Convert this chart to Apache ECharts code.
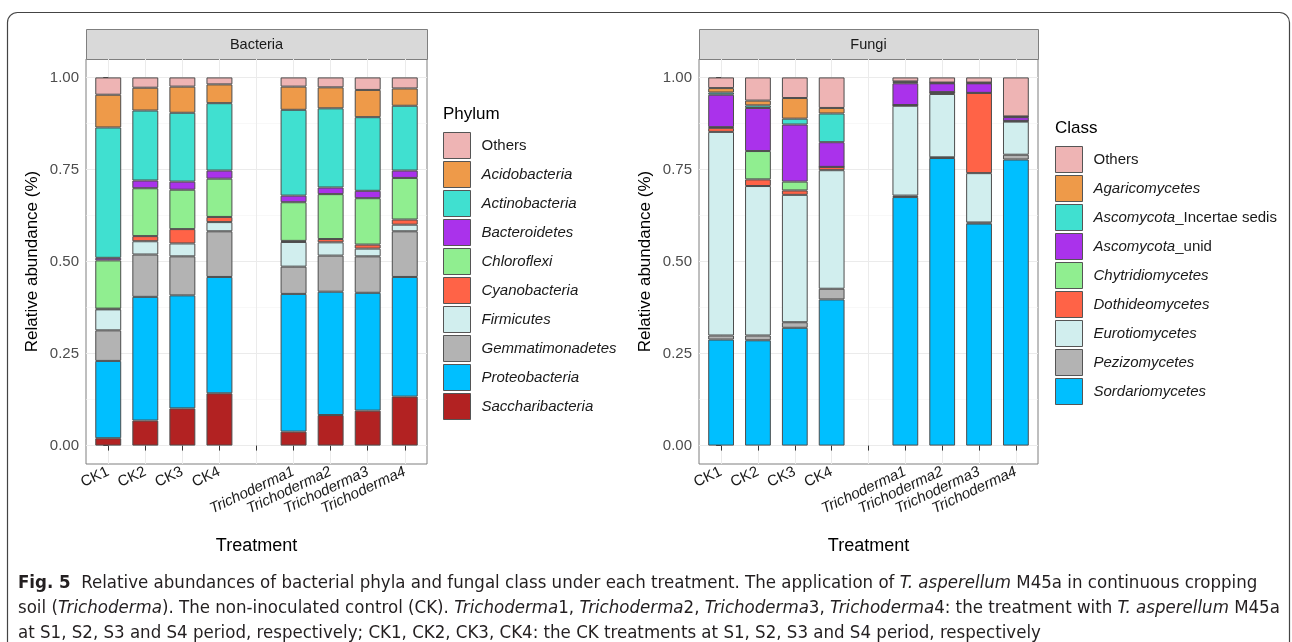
<!DOCTYPE html>
<html><head><meta charset="utf-8">
<script src="https://cdn.jsdelivr.net/npm/echarts@6/dist/echarts.min.js"></script>
<style>html,body{margin:0;padding:0;background:#fff}#c{width:1292px;height:642px}</style>
</head><body><div id="c"></div>
<script>
// ---- categories / ticks ----
const xCategories = ['CK1','CK2','CK3','CK4','','Trichoderma1','Trichoderma2','Trichoderma3','Trichoderma4'];
const treatments = ['CK1','CK2','CK3','CK4','Trichoderma1','Trichoderma2','Trichoderma3','Trichoderma4'];
const yTicks = [0, 0.25, 0.5, 0.75, 1];
const yMinorTicks = [0.125, 0.375, 0.625, 0.875];

// ---- Bacteria (phylum) values: CK1..CK4, Trichoderma1..4 ----
const saccharibacteria = [0.020, 0.068, 0.101, 0.142, 0.038, 0.083, 0.095, 0.133];
const proteobacteria   = [0.210, 0.336, 0.307, 0.316, 0.374, 0.335, 0.320, 0.325];
const gemmatimonadetes = [0.083, 0.115, 0.106, 0.124, 0.074, 0.098, 0.099, 0.124];
const firmicutes       = [0.057, 0.036, 0.035, 0.025, 0.067, 0.036, 0.021, 0.018];
const cyanobacteria    = [0.002, 0.014, 0.039, 0.014, 0.003, 0.009, 0.011, 0.014];
const chloroflexi      = [0.131, 0.130, 0.107, 0.104, 0.105, 0.122, 0.126, 0.113];
const bacteroidetes    = [0.007, 0.021, 0.022, 0.022, 0.018, 0.018, 0.020, 0.020];
const actinobacteria   = [0.354, 0.190, 0.187, 0.183, 0.233, 0.215, 0.200, 0.176];
const acidobacteria    = [0.089, 0.062, 0.071, 0.051, 0.063, 0.057, 0.074, 0.047];
const bacteriaOthers   = [0.047, 0.028, 0.025, 0.019, 0.025, 0.027, 0.034, 0.030];

// ---- Fungi (class) values ----
const sordariomycetes  = [0.288, 0.286, 0.320, 0.397, 0.675, 0.781, 0.603, 0.777];
const pezizomycetes    = [0.011, 0.013, 0.015, 0.029, 0.004, 0.002, 0.003, 0.013];
const eurotiomycetes   = [0.553, 0.406, 0.346, 0.322, 0.244, 0.172, 0.134, 0.090];
const dothideomycetes  = [0.011, 0.018, 0.012, 0.009, 0.002, 0.005, 0.218, 0.002];
const chytridiomycetes = [0.002, 0.077, 0.024, 0, 0, 0, 0, 0];
const ascomycotaUnid   = [0.088, 0.117, 0.155, 0.067, 0.059, 0.024, 0.026, 0.010];
const ascomycotaIncertae = [0.006, 0.007, 0.016, 0.078, 0.003, 0.001, 0.001, 0.001];
const agaricomycetes   = [0.012, 0.013, 0.056, 0.015, 0.002, 0.001, 0.001, 0.001];
const fungiOthers      = [0.029, 0.063, 0.056, 0.083, 0.011, 0.014, 0.014, 0.106];

// stacking order bottom -> top
const bacteriaLayers = [
  ['Saccharibacteria', saccharibacteria, '#B22222'],
  ['Proteobacteria', proteobacteria, '#00BFFF'],
  ['Gemmatimonadetes', gemmatimonadetes, '#B3B3B3'],
  ['Firmicutes', firmicutes, '#D1EEEE'],
  ['Cyanobacteria', cyanobacteria, '#FF6347'],
  ['Chloroflexi', chloroflexi, '#90EE90'],
  ['Bacteroidetes', bacteroidetes, '#AA32EB'],
  ['Actinobacteria', actinobacteria, '#40E0D0'],
  ['Acidobacteria', acidobacteria, '#EE9A49'],
  ['Others', bacteriaOthers, '#EEB4B4']
];
const fungiLayers = [
  ['Sordariomycetes', sordariomycetes, '#00BFFF'],
  ['Pezizomycetes', pezizomycetes, '#B3B3B3'],
  ['Eurotiomycetes', eurotiomycetes, '#D1EEEE'],
  ['Dothideomycetes', dothideomycetes, '#FF6347'],
  ['Chytridiomycetes', chytridiomycetes, '#90EE90'],
  ['Ascomycota_unid', ascomycotaUnid, '#AA32EB'],
  ['Ascomycota_Incertae sedis', ascomycotaIncertae, '#40E0D0'],
  ['Agaricomycetes', agaricomycetes, '#EE9A49'],
  ['Others', fungiOthers, '#EEB4B4']
];

const FONT = 'Liberation Sans, Arial, Helvetica, sans-serif';
const allXTicks = xCategories.map((c, i) => i);
const labelXTicks = allXTicks.filter(i => xCategories[i] !== '');

// panel frames (ggplot discrete scale: 0.6 unit expansion each side)
const panels = [
  { left: 86, top: 59, width: 341, height: 405 },
  { left: 699, top: 59, width: 339, height: 405 }
];
const nUnits = xCategories.length - 1 + 1.2;
// bar grids: one band per category, aligned with the panel's unit positions
const barGrids = panels.map(p => {
  const u = p.width / nUnits;
  return { left: p.left + 0.1 * u, top: p.top, width: xCategories.length * u, height: p.height };
});

function makeSeries(layer, g) {
  return {
    type: 'bar', name: layer[0], stack: 'stack' + g,
    xAxisIndex: 2 + g, yAxisIndex: 4 + g, barWidth: '70%',
    itemStyle: { color: layer[2], borderColor: '#4D4D4D', borderWidth: 1 },
    emphasis: { disabled: true },
    data: xCategories.map(c => { const i = treatments.indexOf(c); return i < 0 ? null : layer[1][i]; })
  };
}

function xLabelFmt(v) {
  const s = xCategories[Math.round(v)] || '';
  if (s.indexOf('Trichoderma') === 0) return '{it|' + s + '}';
  return s;
}
function legendFmt(name) {
  if (name === 'Others') return name;
  const k = name.indexOf('_');
  if (k > 0) return '{it|' + name.slice(0, k) + '}' + name.slice(k);
  return '{it|' + name + '}';
}

const xAxes = panels.map((p, g) => ({
  type: 'value', gridIndex: g, min: -0.6, max: xCategories.length - 1 + 0.6,
  axisLine: { show: false },
  axisTick: { show: true, customValues: allXTicks, length: 5, lineStyle: { color: '#333333', width: 1 } },
  axisLabel: {
    customValues: labelXTicks, rotate: 25, margin: 7, formatter: xLabelFmt,
    fontSize: 15, color: '#1A1A1A', fontFamily: FONT,
    rich: { it: { fontStyle: 'italic', fontSize: 15, color: '#1A1A1A', fontFamily: FONT } }
  },
  splitLine: { show: true, lineStyle: { color: '#EBEBEB', width: 1 } },
  name: 'Treatment', nameLocation: 'middle', nameGap: 73,
  nameTextStyle: { fontSize: 18, color: '#000', fontFamily: FONT }
})).concat(barGrids.map((b, g) => ({
  type: 'category', gridIndex: 2 + g, data: xCategories, boundaryGap: true,
  axisLine: { show: false }, axisTick: { show: false }, axisLabel: { show: false }, splitLine: { show: false }
})));

const yAxes = [];
panels.forEach((p, g) => {
  yAxes.push({
    type: 'value', gridIndex: g, min: -0.05, max: 1.05, position: 'left',
    axisLine: { show: false },
    axisTick: { show: true, customValues: yTicks, length: 5, lineStyle: { color: '#333333', width: 1 } },
    axisLabel: { customValues: yTicks, formatter: v => v.toFixed(2), fontSize: 15, color: '#4D4D4D', margin: 7, fontFamily: FONT },
    splitLine: { show: true, lineStyle: { color: '#EBEBEB', width: 1 } },
    name: 'Relative abundance (%)', nameLocation: 'middle', nameGap: 45, nameRotate: 90,
    nameTextStyle: { fontSize: 17, color: '#000', fontFamily: FONT }
  });
  yAxes.push({
    type: 'value', gridIndex: g, min: -0.05, max: 1.05, position: 'right',
    axisLine: { show: false },
    axisTick: { show: false, customValues: yMinorTicks },
    axisLabel: { show: false, customValues: yMinorTicks },
    splitLine: { show: true, lineStyle: { color: '#F3F3F3', width: 0.6 } }
  });
});
barGrids.forEach((b, g) => {
  yAxes.push({
    type: 'value', gridIndex: 2 + g, min: -0.05, max: 1.05,
    axisLine: { show: false }, axisTick: { show: false }, axisLabel: { show: false }, splitLine: { show: false }
  });
});

const series = bacteriaLayers.map(l => makeSeries(l, 0)).concat(fungiLayers.map(l => makeSeries(l, 1)));

function legendCfg(layers, left, top) {
  return {
    data: layers.map(l => l[0]).reverse(), orient: 'vertical', left: left, top: top, padding: 0,
    itemWidth: 27, itemHeight: 26, itemGap: 2, icon: 'rect', selectedMode: false,
    itemStyle: { borderColor: '#555555', borderWidth: 1 },
    formatter: legendFmt,
    textStyle: {
      fontSize: 15, color: '#1A1A1A', fontFamily: FONT, padding: [0, 0, 0, 6],
      rich: { it: { fontStyle: 'italic', fontSize: 15, color: '#1A1A1A', fontFamily: FONT } }
    }
  };
}

function txt(x, y, text, size, extra) {
  return {
    type: 'text', x: x, y: y, silent: true,
    style: Object.assign({ text: text, fontSize: size, fontFamily: FONT, fill: '#1A1A1A',
      align: 'left', textAlign: 'left', verticalAlign: 'middle', textVerticalAlign: 'middle' }, extra || {})
  };
}

const CAP_FONT = 'Liberation Sans Narrow, DejaVu Sans Condensed, Liberation Sans, sans-serif';
const CAP_SIZE = 18.5;
const capRich = {
  b: { fontWeight: 'bold', fontSize: CAP_SIZE, fontFamily: CAP_FONT, fill: '#231F20' },
  i: { fontStyle: 'italic', fontSize: CAP_SIZE, fontFamily: CAP_FONT, fill: '#231F20' }
};
const captionLines = [
  '{b|Fig. 5}  Relative abundances of bacterial phyla and fungal class under each treatment. The application of {i|T. asperellum} M45a in continuous cropping',
  'soil ({i|Trichoderma}). The non-inoculated control (CK). {i|Trichoderma}1, {i|Trichoderma}2, {i|Trichoderma}3, {i|Trichoderma}4: the treatment with {i|T. asperellum} M45a',
  'at S1, S2, S3 and S4 period, respectively; CK1, CK2, CK3, CK4: the CK treatments at S1, S2, S3 and S4 period, respectively'
];

const graphic = [
  { type: 'rect', silent: true, shape: { x: 7.5, y: 12.5, width: 1282, height: 700, r: 10 },
    style: { fill: 'none', stroke: '#444444', lineWidth: 1.2 } }
].concat(panels.map(p => ({
  type: 'rect', silent: true, shape: { x: p.left + 0.5, y: 29.5, width: p.width, height: 30 },
  style: { fill: '#D9D9D9', stroke: '#7F7F7F', lineWidth: 1 }
}))).concat([
  txt(panels[0].left + panels[0].width / 2, 45, 'Bacteria', 14.5, { align: 'center', textAlign: 'center' }),
  txt(panels[1].left + panels[1].width / 2, 45, 'Fungi', 14.5, { align: 'center', textAlign: 'center' }),
  txt(443, 114, 'Phylum', 17, { fill: '#000' }),
  txt(1055, 128, 'Class', 17, { fill: '#000' })
]).concat(captionLines.map((s, k) => txt(18, 583 + k * 25, s, CAP_SIZE, { fontFamily: CAP_FONT, fill: '#231F20', rich: capRich })));

const option = {
  animation: false,
  backgroundColor: '#fff',
  textStyle: { fontFamily: FONT },
  grid: panels.map(p => Object.assign({ show: true, borderColor: '#7F7F7F', borderWidth: 1, backgroundColor: '#fff' }, p))
    .concat(barGrids.map(b => Object.assign({ show: false }, b))),
  xAxis: xAxes,
  yAxis: yAxes,
  legend: [legendCfg(bacteriaLayers, 443, 132), legendCfg(fungiLayers, 1055, 146)],
  graphic: graphic,
  series: series
};

const chart = echarts.init(document.getElementById('c'), null, { renderer: 'canvas' });
chart.setOption(option);
</script></body></html>
